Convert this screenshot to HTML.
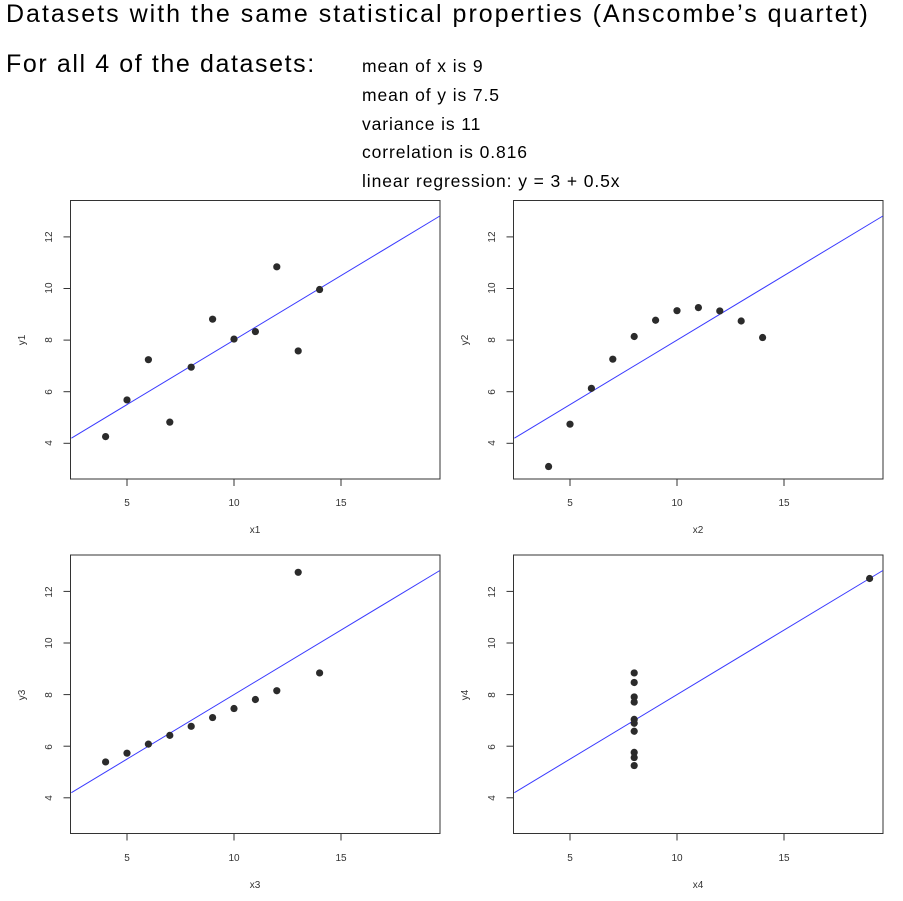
<!DOCTYPE html>
<html><head><meta charset="utf-8">
<style>
body{margin:0;background:#fff;width:903px;height:901px;overflow:hidden;font-family:"Liberation Sans",sans-serif}
.t{position:absolute;white-space:nowrap;color:#000}
svg{position:absolute;left:0;top:0}
</style></head><body>
<div class="t" style="left:6px;top:0px;font-size:25px;letter-spacing:2px">Datasets with the same statistical properties (Anscombe’s quartet)</div>
<div class="t" style="left:6px;top:50px;font-size:25px;letter-spacing:1.6px">For all 4 of the datasets:</div>
<div class="t" style="left:362px;top:52px;font-size:17.5px;line-height:28.8px;letter-spacing:0.9px">mean of x is 9<br>mean of y is 7.5<br>variance is 11<br>correlation is 0.816<br>linear regression: y = 3 + 0.5x</div>
<svg id="s" width="903" height="901" font-family="Liberation Sans, sans-serif" font-size="10" fill="#333">
<g id="p0"></g>
<text x="255" y="533" text-anchor="middle">x1</text>
<text x="698" y="533" text-anchor="middle">x2</text>
<text x="255" y="888" text-anchor="middle">x3</text>
<text x="698" y="888" text-anchor="middle">x4</text>
<text transform="translate(25,340) rotate(-90)" text-anchor="middle">y1</text>
<text transform="translate(468,340) rotate(-90)" text-anchor="middle">y2</text>
<text transform="translate(25,695) rotate(-90)" text-anchor="middle">y3</text>
<text transform="translate(468,695) rotate(-90)" text-anchor="middle">y4</text>
<g text-anchor="middle">
<text x="127" y="506">5</text><text x="234" y="506">10</text><text x="341" y="506">15</text>
<text x="570" y="506">5</text><text x="677" y="506">10</text><text x="784" y="506">15</text>
<text x="127" y="861">5</text><text x="234" y="861">10</text><text x="341" y="861">15</text>
<text x="570" y="861">5</text><text x="677" y="861">10</text><text x="784" y="861">15</text>
</g>
<g text-anchor="middle">
<text transform="translate(52,237) rotate(-90)">12</text><text transform="translate(52,288) rotate(-90)">10</text><text transform="translate(52,340) rotate(-90)">8</text><text transform="translate(52,392) rotate(-90)">6</text><text transform="translate(52,443) rotate(-90)">4</text>
<text transform="translate(495,237) rotate(-90)">12</text><text transform="translate(495,288) rotate(-90)">10</text><text transform="translate(495,340) rotate(-90)">8</text><text transform="translate(495,392) rotate(-90)">6</text><text transform="translate(495,443) rotate(-90)">4</text>
<text transform="translate(52,592) rotate(-90)">12</text><text transform="translate(52,643) rotate(-90)">10</text><text transform="translate(52,695) rotate(-90)">8</text><text transform="translate(52,747) rotate(-90)">6</text><text transform="translate(52,798) rotate(-90)">4</text>
<text transform="translate(495,592) rotate(-90)">12</text><text transform="translate(495,643) rotate(-90)">10</text><text transform="translate(495,695) rotate(-90)">8</text><text transform="translate(495,747) rotate(-90)">6</text><text transform="translate(495,798) rotate(-90)">4</text>
</g>
</svg>
<script>
var X=[10,8,13,9,11,14,6,4,12,7,5];
var D=[[X,[8.04,6.95,7.58,8.81,8.33,9.96,7.24,4.26,10.84,4.82,5.68]],
[X,[9.14,8.14,8.74,8.77,9.26,8.10,6.13,3.10,9.13,7.26,4.74]],
[X,[7.46,6.77,12.74,7.11,7.81,8.84,6.08,5.39,8.15,6.42,5.73]],
[[8,8,8,8,8,8,8,19,8,8,8],[6.58,5.76,7.71,8.84,8.47,7.04,5.25,12.50,5.56,7.91,6.89]]];
var offs=[[0,0],[443,0],[0,354.5],[443,354.5]];
var h='';
for(var k=0;k<4;k++){var ox=offs[k][0],oy=offs[k][1];
function px(x){return ox+20+21.4*x}function py(y){return oy+546.5-25.8*y}
h+='<rect x="'+(ox+70.5)+'" y="'+(oy+200.5)+'" width="369.5" height="278.5" fill="none" stroke="#333" stroke-width="1"/>';
for(var t=5;t<=15;t+=5)h+='<line x1="'+px(t)+'" x2="'+px(t)+'" y1="'+(oy+479)+'" y2="'+(oy+486)+'" stroke="#333"/>';
for(var t=4;t<=12;t+=2)h+='<line y1="'+py(t)+'" y2="'+py(t)+'" x1="'+(ox+70.5)+'" x2="'+(ox+63.5)+'" stroke="#333"/>';
var x0=2.4,x1=19.62;
h+='<line x1="'+px(x0)+'" y1="'+py(3+0.5*x0)+'" x2="'+px(x1)+'" y2="'+py(3+0.5*x1)+'" stroke="#3a3aff" stroke-width="1"/>';
for(var i=0;i<11;i++)h+='<circle cx="'+px(D[k][0][i])+'" cy="'+py(D[k][1][i])+'" r="3.6" fill="#2b2b2b"/>';
}
document.getElementById('p0').innerHTML=h;
</script>
</body></html>
